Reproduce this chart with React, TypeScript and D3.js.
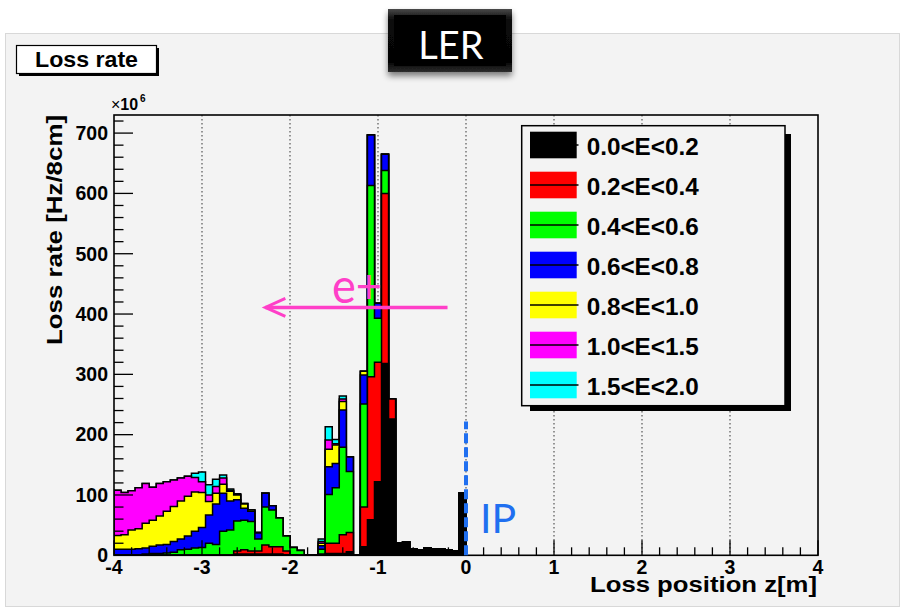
import React from 'react';
import * as d3 from 'd3';

// ---- data (loss rate, units of 1e6 Hz per 8 cm bin), bins from z=-4.0 m in 0.08 m steps ----
const binStart = -4;
const binWidth = 0.08;

const energyLabels = ['0.0<E<0.2', '0.2<E<0.4', '0.4<E<0.6', '0.6<E<0.8', '0.8<E<1.0', '1.0<E<1.5', '1.5<E<2.0'];
const energyColors = ['#000000', '#ff0000', '#00ff00', '#0000ff', '#ffff00', '#ff00ff', '#00ffff'];

const rateE00_02 = [0,0,0,0,0,0,0,0,0,0, 0,0,0,0,0,0,0,2,2,2, 2,2,2,2,1,0,0,0,0,0, 3,3,3,6,0,14,59,122,318,226, 20,22,11,9,12,11,11,9,7,103];
const rateE02_04 = [0,0,0,0,0,0,0,0,0,0, 0,0,0,0,0,0,0,5,7,5, 5,15,12,12,6,1,0,0,0,2, 17,17,31,32,0,66,237,198,282,33, 0,0,0,0,0,0,0,0,0,0];
const rateE04_06 = [0,0,0,0,2,3,3,4,5,9, 10,12,13,20,18,40,42,50,49,49, 20,63,61,48,25,12,8,0,0,8, 81,92,145,101,0,171,317,73,38,0, 0,0,0,0,0,0,0,0,0,0];
const rateE06_08 = [10,10,10,11,10,12,14,14,18,18, 22,28,33,47,67,63,48,35,20,17, 10,23,7,0,0,0,0,0,0,6, 46,40,62,24,0,48,84,25,27,0, 0,0,0,0,0,0,0,0,0,0];
const rateE08_10 = [23,24,32,33,41,43,48,55,58,63, 66,65,58,22,18,15,16,8,7,2, 1,0,0,0,0,0,0,0,0,4, 29,31,14,0,0,6,0,0,0,0, 0,0,0,0,0,0,0,0,0,0];
const rateE10_15 = [75,70,65,68,66,55,54,49,44,38, 33,24,18,11,11,10,2,1,1,0, 0,0,0,0,0,0,0,0,0,3, 15,2,4,0,0,0,0,0,0,0, 0,0,0,0,0,0,0,0,0,0];
const rateE15_20 = [0,0,0,0,0,0,0,0,0,0, 0,7,16,17,12,5,2,1,0,0, 0,0,0,0,0,0,0,0,0,4, 22,7,5,0,0,0,0,0,0,0, 0,0,0,0,0,0,0,0,0,0];

const xTicks = [-4, -3, -2, -1, 0, 1, 2, 3, 4];
const xGrid = [-3, -2, -1, 0, 1, 2, 3];
const yTicks = [0, 100, 200, 300, 400, 500, 600, 700];

// annotations in data units
const arrowFromZ = -0.21;
const arrowToZ = -2.28;
const arrowRate = 411;
const ipZ = 0;
const ipTopRate = 222;

const FONT = "'Liberation Sans', Arial, Helvetica, sans-serif";
const CALIBRI = "Lato, 'Open Sans', sans-serif";

export default function App() {
  const W = 906, H = 616;
  const x = d3.scaleLinear().domain([-4, 4]).range([114, 818]);
  const y = d3.scaleLinear().domain([0, 730]).range([555.3, 115]);

  const series = [rateE00_02, rateE02_04, rateE04_06, rateE06_08, rateE08_10, rateE10_15, rateE15_20];
  const keys = series.map((_, k) => 'k' + k);
  const rows = series[0].map((_, i) => {
    const o: any = { i };
    series.forEach((s, k) => (o['k' + k] = s[i]));
    return o;
  });
  const stacked = d3.stack<any>().keys(keys)(rows);

  const area = d3
    .area<{ z: number; v: number }>()
    .x((d) => x(d.z))
    .y0(y(0))
    .y1((d) => y(d.v));

  const layerPaths = stacked.map((layer, k) => {
    const pts: { z: number; v: number }[] = [{ z: binStart, v: 0 }];
    layer.forEach((d, i) => {
      const z0 = binStart + i * binWidth;
      pts.push({ z: z0, v: d[1] }, { z: z0 + binWidth, v: d[1] });
    });
    pts.push({ z: binStart + layer.length * binWidth, v: 0 });
    return { k, d: area(pts) as string };
  });

  const xMinor = d3.range(-4, 4.0001, 0.2);
  const yMinor = d3.range(0, 721, 20);

  const line = d3.line<[number, number]>();

  const ax0 = x(arrowFromZ), ax1 = x(arrowToZ), ay = y(arrowRate);

  return (
    <svg width={W} height={H} style={{ position: 'absolute', left: 0, top: 0 }} xmlns="http://www.w3.org/2000/svg">
      <defs>
        <clipPath id="frameClip">
          <rect x={114} y={115} width={704} height={440.3} />
        </clipPath>
        <linearGradient id="lerEdge" x1="0" y1="0" x2="0" y2="1">
          <stop offset="0" stopColor="#4a4a4a" />
          <stop offset="0.18" stopColor="#080808" />
          <stop offset="0.85" stopColor="#050505" />
          <stop offset="1" stopColor="#2f2f2f" />
        </linearGradient>
        <filter id="shadow" x="-20%" y="-20%" width="140%" height="160%">
          <feGaussianBlur in="SourceAlpha" stdDeviation="3" />
          <feOffset dx="0" dy="4" result="b" />
          <feComponentTransfer><feFuncA type="linear" slope="0.5" /></feComponentTransfer>
          <feMerge><feMergeNode /><feMergeNode in="SourceGraphic" /></feMerge>
        </filter>
      </defs>

      <rect x={0} y={0} width={W} height={H} fill="#ffffff" />
      {/* canvas panel */}
      <rect x={5.5} y={33.5} width={894} height={573} fill="#f3f3f3" stroke="#d8d8d8" strokeWidth={1} />

      {/* title box */}
      <rect x={19} y={48} width={140} height={28} fill="#000" />
      <rect x={16.5} y={45.5} width={140} height={28} fill="#fff" stroke="#000" strokeWidth={1.2} />
      <text x={86.5} y={67} textAnchor="middle" fontFamily={FONT} fontWeight="bold" fontSize={22} textLength={103} lengthAdjust="spacingAndGlyphs">Loss rate</text>

      {/* grid */}
      {xGrid.map((g) => (
        <line key={'g' + g} x1={x(g)} x2={x(g)} y1={115} y2={555} stroke="#555" strokeWidth={1.2} strokeDasharray="1.5,2.5" />
      ))}

      {/* stacked histogram */}
      <g clipPath="url(#frameClip)">
        {layerPaths.slice().reverse().map((p) => (
          <path key={'l' + p.k} d={p.d} fill={energyColors[p.k]} stroke="#000" strokeWidth={1.5} strokeLinejoin="miter" />
        ))}
      </g>

      {/* frame */}
      <rect x={114} y={115} width={704} height={440.3} fill="none" stroke="#000" strokeWidth={1.6} />

      {/* x ticks */}
      {xMinor.map((t, i) => {
        const major = Math.abs(t - Math.round(t)) < 1e-6;
        return <line key={'xm' + i} x1={x(t)} x2={x(t)} y1={555.3} y2={555.3 - (major ? 15 : 8)} stroke="#000" strokeWidth={1.3} />;
      })}
      {/* y ticks */}
      {yMinor.map((t) => {
        const major = t % 100 === 0;
        return <line key={'ym' + t} x1={114} x2={114 + (major ? 19 : 9.5)} y1={y(t)} y2={y(t)} stroke="#000" strokeWidth={1.3} />;
      })}

      {/* tick labels */}
      {yTicks.map((t) => (
        <text key={'yl' + t} x={108} y={y(t) + 6.8} textAnchor="end" fontFamily={FONT} fontWeight="bold" fontSize={19.5}>{t}</text>
      ))}
      {xTicks.map((t) => (
        <text key={'xl' + t} x={x(t)} y={574} textAnchor="middle" fontFamily={FONT} fontWeight="bold" fontSize={19.5}>{t}</text>
      ))}
      <text x={111} y={110} fontFamily={FONT} fontSize={16}>
        <tspan>×</tspan><tspan fontWeight="bold">10</tspan>
      </text>
      <text x={140} y={102} fontFamily={FONT} fontWeight="bold" fontSize={10}>6</text>

      {/* axis titles */}
      <text x={817} y={592} textAnchor="end" fontFamily={FONT} fontWeight="bold" fontSize={22} textLength={227} lengthAdjust="spacingAndGlyphs">Loss position z[m]</text>
      <text transform="translate(62,115) rotate(-90)" x={0} y={0} textAnchor="end" fontFamily={FONT} fontWeight="bold" fontSize={22} textLength={230} lengthAdjust="spacingAndGlyphs">Loss rate [Hz/8cm]</text>

      {/* legend */}
      <rect x={530} y={134} width={261} height={277} fill="#000" />
      <rect x={521.7} y={125.7} width={263.3} height={280} fill="#f3f3f3" stroke="#000" strokeWidth={1.5} />
      {energyLabels.map((lab, k) => (
        <g key={'lg' + k}>
          <rect x={530} y={131.7 + 40 * k} width={46.7} height={26.6} fill={energyColors[k]} />
          <line x1={530} x2={578.5} y1={145 + 40 * k} y2={145 + 40 * k} stroke="#000" strokeWidth={1.3} />
          <text x={586.7} y={155 + 40 * k} fontFamily={FONT} fontWeight="bold" fontSize={24.5} textLength={112} lengthAdjust="spacingAndGlyphs">{lab}</text>
        </g>
      ))}

      {/* e+ arrow */}
      <path d={line([[ax0, ay], [ax1, ay]]) as string} stroke="#ff3fc8" strokeWidth={3.5} fill="none" />
      <path d={line([[ax1 + 20, ay - 9], [ax1, ay], [ax1 + 20, ay + 9]]) as string} stroke="#ff3fc8" strokeWidth={3} fill="none" />
      <text x={332} y={303} fontFamily={CALIBRI} fontSize={48} fill="#ff3fc8" textLength={50} lengthAdjust="spacingAndGlyphs">e+</text>

      {/* IP */}
      <path d={line([[x(ipZ), y(0)], [x(ipZ), y(ipTopRate)]]) as string} stroke="#1f6ff0" strokeWidth={4} strokeDasharray="10,4" fill="none" />
      <text x={480} y={533} fontFamily={CALIBRI} fontSize={41} fill="#1f6ff0">IP</text>

      {/* LER label */}
      <g filter="url(#shadow)">
        <rect x={388} y={9} width={124} height={63} fill="url(#lerEdge)" />
        <rect x={394} y={15} width={112} height={51} fill="#000" />
      </g>
      <text x={451} y={59} textAnchor="middle" fontFamily={CALIBRI} fontSize={38} fill="#fff">LER</text>
    </svg>
  );
}
